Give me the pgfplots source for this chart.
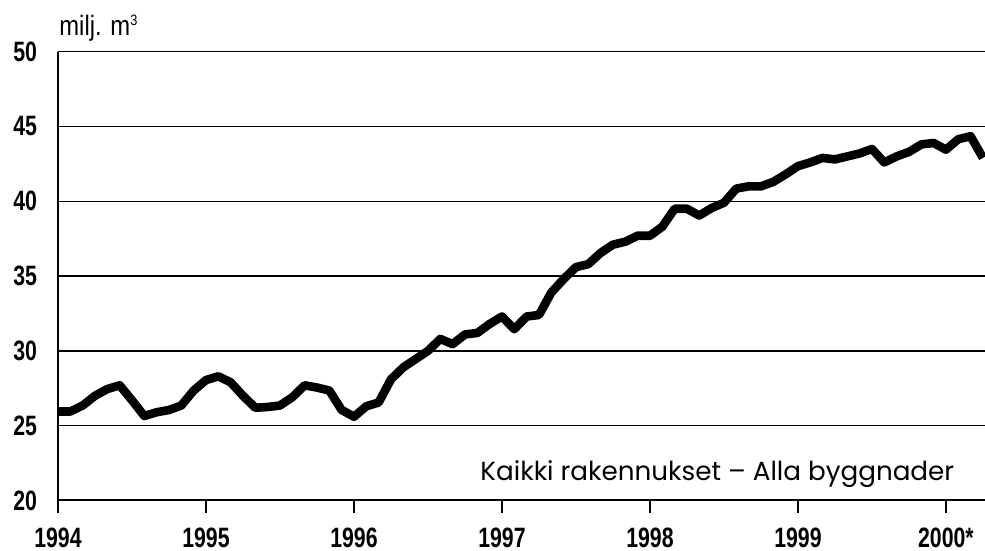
\documentclass[border=0pt]{standalone}
\usepackage{pgfplots}
\pgfplotsset{compat=1.18}
\usepackage{pgfplotstable}
\usepackage{fontspec}
\setmainfont{Liberation Sans}
\newfontfamily\condb[FakeStretch=0.76]{Liberation Sans}
\newfontfamily\condr[FakeStretch=0.85]{Liberation Sans}
\newfontfamily\geo{Poppins}

\pgfplotstableread{
x val
1994.0000 25.95
1994.0833 25.95
1994.1667 26.35
1994.2500 27.00
1994.3333 27.45
1994.4167 27.70
1994.5000 26.70
1994.5833 25.65
1994.6667 25.90
1994.7500 26.05
1994.8333 26.35
1994.9167 27.35
1995.0000 28.05
1995.0833 28.30
1995.1667 27.90
1995.2500 27.00
1995.3333 26.20
1995.4167 26.25
1995.5000 26.35
1995.5833 26.90
1995.6667 27.70
1995.7500 27.55
1995.8333 27.35
1995.9167 26.05
1996.0000 25.60
1996.0833 26.30
1996.1667 26.55
1996.2500 28.10
1996.3333 28.90
1996.4167 29.45
1996.5000 30.00
1996.5833 30.80
1996.6667 30.45
1996.7500 31.10
1996.8333 31.20
1996.9167 31.80
1997.0000 32.30
1997.0833 31.45
1997.1667 32.30
1997.2500 32.40
1997.3333 33.90
1997.4167 34.80
1997.5000 35.60
1997.5833 35.80
1997.6667 36.55
1997.7500 37.10
1997.8333 37.30
1997.9167 37.70
1998.0000 37.70
1998.0833 38.30
1998.1667 39.50
1998.2500 39.50
1998.3333 39.05
1998.4167 39.55
1998.5000 39.90
1998.5833 40.85
1998.6667 41.00
1998.7500 41.00
1998.8333 41.30
1998.9167 41.80
1999.0000 42.35
1999.0833 42.60
1999.1667 42.90
1999.2500 42.80
1999.3333 43.00
1999.4167 43.20
1999.5000 43.50
1999.5833 42.60
1999.6667 43.00
1999.7500 43.30
1999.8333 43.80
1999.9167 43.90
2000.0000 43.45
2000.0833 44.15
2000.1667 44.35
2000.2500 42.90
}\datatable

\begin{document}
\begin{tikzpicture}
\begin{axis}[
  at={(0,0)}, anchor=south west,
  scale only axis,
  width=463.5pt, height=224.4pt,
  xmin=1994, xmax=2000.264,
  ymin=20, ymax=50,
  axis lines*=left,
  axis line style={black, line width=1pt},
  xtick={1994,1995,1996,1997,1998,1999,2000},
  xticklabels={1994,1995,1996,1997,1998,1999,2000*},
  ytick={20,25,30,35,40,45,50},
  tick align=outside,
  major tick length=6pt,
  x tick style={black, line width=0.8pt},
  y tick style={draw=none},
  ymajorgrids,
  grid style={black, line width=0.75pt},
  /pgf/number format/assume math mode=true,
  tick label style={font=\condb\bfseries\fontsize{14}{16}\selectfont},
  xticklabel style={anchor=base, inner sep=0pt, yshift=-17.6pt},
  yticklabel style={xshift=-1pt},
  clip=true,
]
\addplot[black, line width=4.3pt, line join=round, line cap=butt] table[x=x, y=val] {\datatable};
\end{axis}
\node[anchor=base west, inner sep=0, font=\condr\fontsize{14}{16}\selectfont] at (0.5pt,232.3pt) {milj. m\textsuperscript{\fontsize{7.5}{8}\selectfont 3}};
\node[anchor=base west, inner sep=0, font=\geo\fontsize{13.1}{15}\selectfont] at (211pt,9.9pt) {Kaikki rakennukset – Alla byggnader};
\pgfresetboundingbox
\path[use as bounding box] (-29pt,-25.25pt) rectangle (463.5pt,250.25pt);
\end{tikzpicture}
\end{document}
